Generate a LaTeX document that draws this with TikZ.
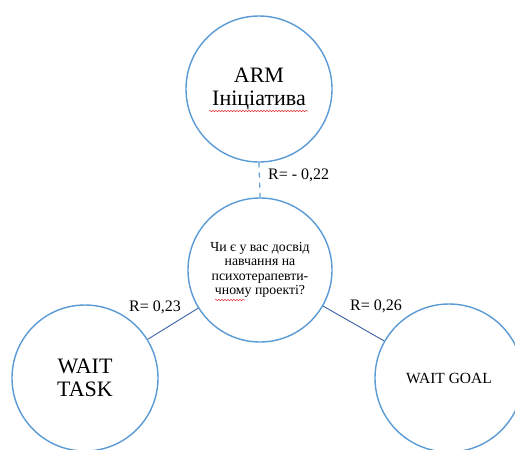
\documentclass[tikz,border=0pt]{standalone}
\usepackage{fontspec}
\setmainfont{Liberation Serif}
\usetikzlibrary{decorations.pathmorphing}
\definecolor{ringblue}{HTML}{5B9BD5}
\definecolor{linkblue}{HTML}{3C62A8}
\definecolor{squig}{HTML}{E03030}
\tikzset{
  ring/.style={circle, draw=ringblue, line width=1.4pt, fill=white, inner sep=0pt, align=center},
  link/.style={draw=linkblue, line width=0.9pt},
  dashlink/.style={draw=ringblue, line width=1.2pt, dash pattern=on 5pt off 5pt},
  rlabel/.style={font=\fontsize{16}{18}\selectfont, inner sep=0pt},
  wavy/.style={draw=squig, line width=0.5pt, decorate, decoration={snake, amplitude=0.7pt, segment length=3pt}}
}
\begin{document}
\begin{tikzpicture}[x=1pt,y=-1pt]
\useasboundingbox (0,0) rectangle (515,450);
\clip (0,0) rectangle (515,450);
\fill[white] (0,0) rectangle (515,450);
\node[ring, minimum size=146pt, font=\fontsize{22}{23}\selectfont] (arm) at (259,89) {ARM\\Ініціатива};
\node[ring, minimum size=144pt, font=\fontsize{13.8}{14.3}\selectfont] (q) at (260,270) {Чи є у вас досвід\\навчання на\\психотерапевти-\\чному проекті?};
\node[ring, minimum size=146pt, font=\fontsize{22}{23}\selectfont] (task) at (85,378) {WAIT\\TASK};
\node[ring, minimum size=148pt, font=\fontsize{15.5}{17}\selectfont] (goal) at (449,378) {WAIT GOAL};
\draw[dashlink] (arm.south) -- (q.north);
\draw[link] (task) -- (q);
\draw[link] (q) -- (goal);
\node[rlabel, anchor=west] (l1) at (268,175) {R= - 0,22};
\node[rlabel] (l2) at (155,307) {R= 0,23};
\node[rlabel] (l3) at (376,306) {R= 0,26};
\draw[wavy] (209,111) -- (308,111);
\draw[wavy] (215,300) -- (245,300);
\end{tikzpicture}
\end{document}
